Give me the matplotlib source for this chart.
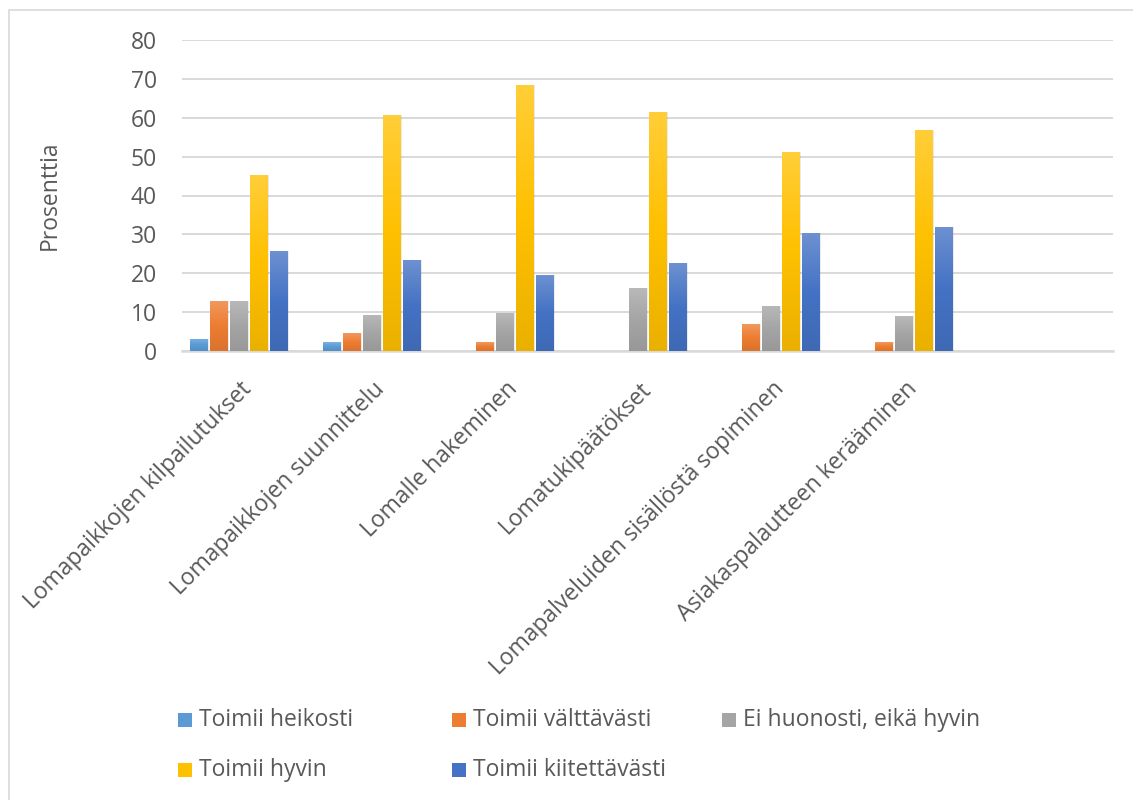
import numpy as np
import matplotlib
matplotlib.use("Agg")
import matplotlib.pyplot as plt
from matplotlib.colors import LinearSegmentedColormap, to_rgb
from matplotlib.patches import Rectangle
import matplotlib.transforms as mtransforms

categories = ["Lomapaikkojen kilpailutukset", "Lomapaikkojen suunnittelu",
              "Lomalle hakeminen", "Lomatukipäätökset",
              "Lomapalveluiden sisällöstä sopiminen", "Asiakaspalautteen kerääminen"]
series_names = ["Toimii heikosti", "Toimii välttävästi", "Ei huonosti, eikä hyvin",
                "Toimii hyvin", "Toimii kiitettävästi"]
heikosti = [3.1, 2.3, 0, 0, 0, 0]
valttavasti = [12.9, 4.6, 2.3, 0, 6.9, 2.3]
ei_huonosti = [12.9, 9.3, 9.9, 16.2, 11.6, 9.0]
hyvin = [45.2, 60.7, 68.4, 61.4, 51.2, 56.8]
kiitettavasti = [25.7, 23.4, 19.5, 22.6, 30.3, 31.9]
yticks = [0, 10, 20, 30, 40, 50, 60, 70, 80]

series = [heikosti, valttavasti, ei_huonosti, hyvin, kiitettavasti]
colors = ["#5B9BD5", "#ED7D31", "#A5A5A5", "#FFC000", "#4472C4"]

plt.rcParams['font.family'] = ['Open Sans', 'DejaVu Sans']
txt_color = "#595959"
fs = 16.5

fig = plt.figure(figsize=(11.33, 8), dpi=100)
ax = fig.add_axes([182/1133, 1-351/800, (1113-182)/1133, (351-40)/800])

def lighten(c, f):
    r = np.array(to_rgb(c))
    return tuple(r + (1-r)*f)

def darken(c, f):
    r = np.array(to_rgb(c))
    return tuple(r*(1-f))

n_slots = 7
x = np.arange(len(categories))
step = 0.150
width = 0.128
grad = np.linspace(0, 1, 256).reshape(-1, 1)
for i, (vals, c) in enumerate(zip(series, colors)):
    off = (i - 2.5) * step
    ax.bar(x + off + 0.012, vals, width, color="#000000", alpha=0.08, zorder=2, linewidth=0)
    ax.bar(x + off + 0.006, vals, width, color="#000000", alpha=0.10, zorder=2, linewidth=0)
    bars = ax.bar(x + off, vals, width, color=c, zorder=3, linewidth=0)
    cmap = LinearSegmentedColormap.from_list("g", [darken(c, 0.08), c, lighten(c, 0.22)])
    for b in bars:
        h = b.get_height()
        if h <= 0:
            continue
        bx = b.get_x()
        im = ax.imshow(grad, extent=[bx, bx + b.get_width(), 0, h], origin='lower',
                       aspect='auto', cmap=cmap, zorder=3.5, interpolation='bilinear')
        im.set_clip_path(b)

ax.set_xlim(-0.5, n_slots - 0.5)
ax.set_ylim(0, 80)
ax.set_yticks(yticks)
ax.set_yticklabels([str(t) for t in yticks])
ax.grid(axis='y', color="#D9D9D9", linewidth=1.4, zorder=0)
ax.set_axisbelow(True)
for s in ["top", "right", "left"]:
    ax.spines[s].set_visible(False)
ax.spines["bottom"].set_color("#D9D9D9")
ax.spines["bottom"].set_linewidth(1.8)
ax.spines["bottom"].set_zorder(1)
ax.tick_params(axis='y', length=0, pad=18, labelsize=fs, labelcolor=txt_color)
ax.tick_params(axis='x', length=0, pad=25, labelsize=fs, labelcolor=txt_color)
ax.set_xticks(x)
ax.set_xticklabels(categories, rotation=45, ha='right', va='center', rotation_mode='anchor')
for lab in ax.get_xticklabels():
    lab.set_transform(lab.get_transform() + mtransforms.ScaledTranslation(0.0, 0, fig.dpi_scale_trans))

ax.set_ylabel("Prosenttia", fontsize=fs, color=txt_color)
ax.yaxis.set_label_coords((62 - 182) / 931, 0.5)

col_x = [178, 452, 722]
row_y = [720, 770]
order = [(0, 0), (0, 1), (0, 2), (1, 0), (1, 1)]
for (r, cidx), name, c in zip(order, series_names, colors):
    px, py = col_x[cidx], row_y[r]
    fig.patches.append(Rectangle((px/1133, 1-(py+7)/800), 14/1133, 14/800,
                                 transform=fig.transFigure, facecolor=c, edgecolor='none'))
    fig.text((px+21)/1133, 1-py/800, name, fontsize=fs, color=txt_color, va='center', ha='left')

fig.patches.append(Rectangle((9/1133, -0.01), 1.0, 1-10/800 + 0.01, transform=fig.transFigure,
                             facecolor='none', edgecolor="#D9D9D9", linewidth=1.2))

fig.savefig("out.png", dpi=100)
